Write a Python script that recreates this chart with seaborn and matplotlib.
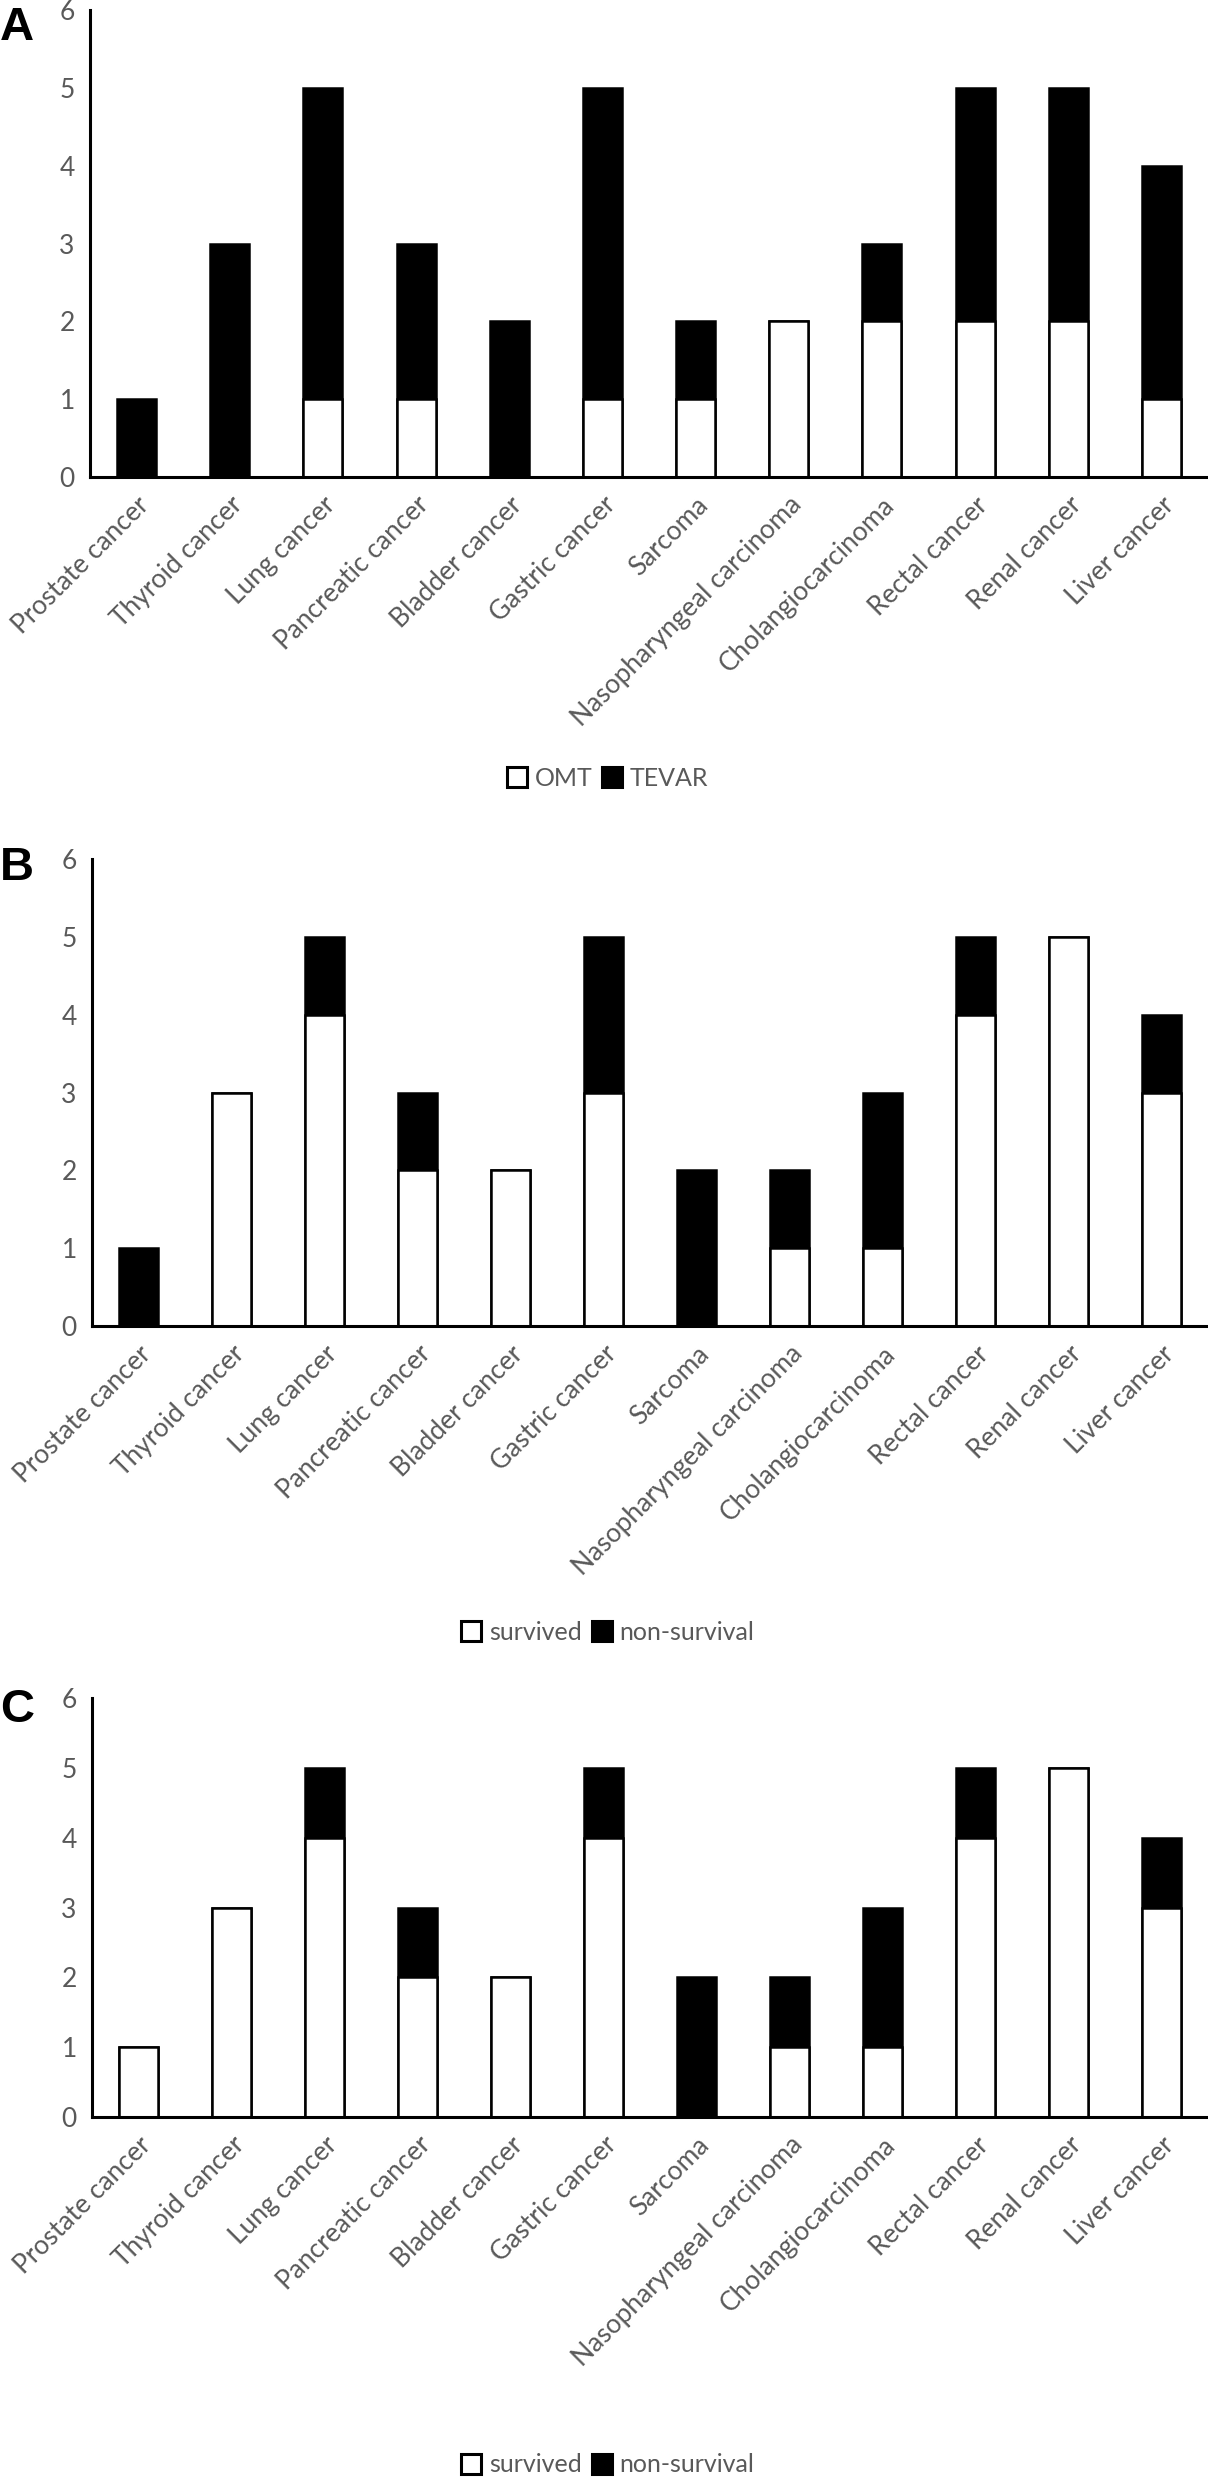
import matplotlib
matplotlib.use("Agg")
import matplotlib.pyplot as plt
import seaborn as sns
from matplotlib.lines import Line2D

sns.set_theme(style="white")
plt.rcParams['font.family'] = ['Lato', 'DejaVu Sans']

# ---------------------------------------------------------------- data
cancers = ["Prostate cancer", "Thyroid cancer", "Lung cancer", "Pancreatic cancer",
           "Bladder cancer", "Gastric cancer", "Sarcoma", "Nasopharyngeal carcinoma",
           "Cholangiocarcinoma", "Rectal cancer", "Renal cancer", "Liver cancer"]

omt   = [0, 0, 1, 1, 0, 1, 1, 2, 2, 2, 2, 1]
tevar = [1, 3, 4, 2, 2, 4, 1, 0, 1, 3, 3, 3]

survived_b     = [0, 3, 4, 2, 2, 3, 0, 1, 1, 4, 5, 3]
nonsurvival_b  = [1, 0, 1, 1, 0, 2, 2, 1, 2, 1, 0, 1]

survived_c     = [1, 3, 4, 2, 2, 4, 0, 1, 1, 4, 5, 3]
nonsurvival_c  = [0, 0, 1, 1, 0, 1, 2, 1, 2, 1, 0, 1]

panels = [
    ("A", omt, tevar, ["OMT", "TEVAR"]),
    ("B", survived_b, nonsurvival_b, ["survived", "non-survival"]),
    ("C", survived_c, nonsurvival_c, ["survived", "non-survival"]),
]

# ---------------------------------------------------------------- layout (pixels)
W, H = 1208, 2480
GRAY = "#595959"
# left, top, bottom of each axes, legend centre y, letter top
boxes = [(90, 10, 477, 778, 6),
         (92, 859, 1326, 1632, 846),
         (92, 1698, 2117, 2465, 1688)]

fig = plt.figure(figsize=(W / 100, H / 100), dpi=100)

for (letter, lower, upper, names), (left, top, bottom, leg_y, let_top) in zip(panels, boxes):
    ax = fig.add_axes([left / W, 1 - bottom / H, (W - left) / W, (bottom - top) / H])
    totals = [a + b for a, b in zip(lower, upper)]

    # stacked bars: full height in black, lower part painted white on top
    sns.barplot(x=cancers, y=totals, color="black", saturation=1, width=0.42,
                edgecolor="black", linewidth=1.8, ax=ax)
    sns.barplot(x=cancers, y=lower, color="white", saturation=1, width=0.42,
                edgecolor="black", linewidth=1.8, ax=ax)

    ax.set_ylim(0, 6)
    ax.set_yticks(range(7))
    ax.set_xlim(-0.5, len(cancers) - 0.5)
    ax.set_xticks(range(len(cancers)))
    ax.set_xticklabels(cancers, rotation=45, ha="right", rotation_mode="anchor")
    ax.tick_params(axis="both", length=0, labelcolor=GRAY)
    ax.tick_params(axis="x", labelsize=19, pad=11)
    ax.tick_params(axis="y", labelsize=19, pad=11)
    ax.set_xlabel("")
    ax.set_ylabel("")
    for s in ["top", "right"]:
        ax.spines[s].set_visible(False)
    for s in ["left", "bottom"]:
        ax.spines[s].set_color("black")
        ax.spines[s].set_linewidth(2.2)

    handles = [Line2D([], [], linestyle="none", marker="s", markersize=14,
                      markerfacecolor="white", markeredgecolor="black", markeredgewidth=2.2),
               Line2D([], [], linestyle="none", marker="s", markersize=14,
                      markerfacecolor="black", markeredgecolor="black", markeredgewidth=2.2)]
    fig.legend(handles, names, loc="center", ncol=2, frameon=False,
               bbox_to_anchor=(0.503, 1 - leg_y / H), fontsize=18, labelcolor=GRAY,
               handletextpad=0.3, columnspacing=0.4, handlelength=0.8)

    fig.text(0.0, 1 - let_top / H, letter, fontsize=34, fontweight="bold",
             family="Liberation Sans", va="top", ha="left", color="black")

fig.savefig("out.png", dpi=100)
